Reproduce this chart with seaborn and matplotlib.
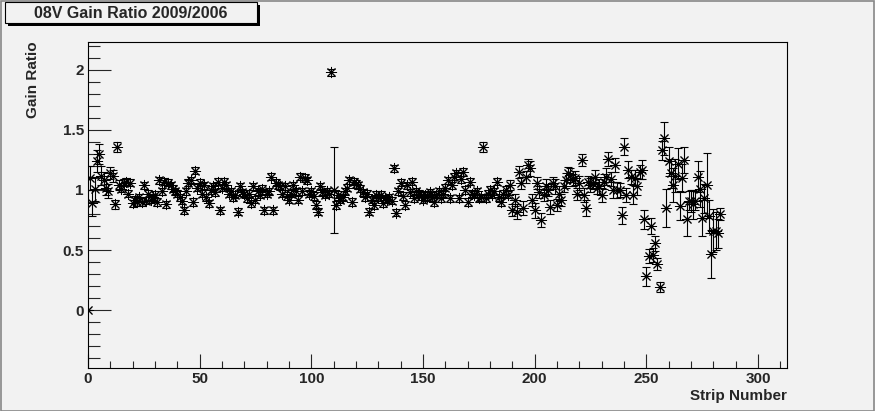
import numpy as np
import pandas as pd
import matplotlib
matplotlib.use("Agg")
import matplotlib.pyplot as plt
import seaborn as sns
from matplotlib.ticker import MultipleLocator, FormatStrFormatter
from matplotlib.patches import Rectangle

# ----------------------------------
# Data
# ----------------------------------

title = "08V Gain Ratio 2009/2006"

gain_ratio = [
    0.00, 1.10, 0.89, 1.01, 1.24, 1.30, 1.12, 1.08, 1.02, 0.99,
    1.14, 1.12, 0.88, 1.36, 1.04, 1.01, 1.06, 1.07, 0.97, 1.06,
    0.89, 0.92, 0.90, 0.94, 0.90, 1.04, 0.91, 0.97, 0.92, 0.94,
    0.96, 0.90, 1.08, 0.99, 1.07, 0.88, 1.06, 1.04, 1.01, 0.99,
    0.97, 0.94, 0.91, 0.83, 0.99, 1.06, 1.08, 0.90, 1.16, 1.02,
    1.06, 0.97, 1.04, 0.94, 0.89, 1.00, 1.03, 0.98, 1.07, 0.83,
    1.02, 1.07, 1.04, 0.97, 0.99, 0.94, 0.96, 0.82, 1.03, 0.98,
    0.97, 0.93, 0.97, 0.89, 1.03, 0.92, 0.99, 0.96, 1.01, 0.83,
    0.97, 0.99, 1.11, 0.83, 1.06, 1.04, 1.03, 0.97, 1.03, 0.95,
    0.92, 0.97, 1.04, 0.99, 0.92, 1.11, 0.99, 1.10, 1.08, 0.97,
    0.99, 0.95, 0.875, 0.82, 1.03, 0.98, 0.96, 0.99, 0.97, 1.98,
    1.00, 0.875, 0.96, 0.92, 0.94, 0.99, 1.02, 1.08, 0.90, 1.07,
    1.05, 1.04, 1.01, 0.98, 0.94, 0.97, 0.82, 0.92, 0.875, 0.96,
    0.94, 0.96, 0.89, 0.93, 0.92, 0.94, 0.91, 1.18, 0.81, 0.99,
    1.06, 0.95, 0.875, 1.04, 0.98, 1.07, 0.93, 0.99, 0.97, 0.95,
    0.92, 0.96, 0.94, 0.98, 0.94, 0.90, 0.96, 0.99, 0.93, 0.97,
    1.02, 1.08, 0.93, 1.04, 1.11, 1.14, 0.93, 1.09, 1.15, 1.00,
    0.90, 1.07, 0.97, 0.96, 0.99, 0.93, 0.94, 1.36, 0.93, 0.97,
    1.00, 0.96, 0.99, 1.07, 0.94, 0.90, 0.97, 1.00, 0.96, 1.04,
    0.83, 0.92, 0.82, 1.15, 1.06, 0.85, 1.11, 1.21, 1.18, 0.92,
    0.83, 1.06, 0.98, 0.75, 0.96, 1.03, 1.00, 0.86, 1.06, 1.03,
    0.875, 0.97, 0.92, 1.03, 1.08, 1.14, 1.125, 1.08, 1.10, 0.97,
    1.06, 1.25, 0.96, 0.85, 1.07, 1.04, 1.06, 1.11, 1.02, 1.03,
    0.96, 1.07, 1.11, 1.26, 1.09, 1.00, 1.21, 1.00, 1.00, 0.79,
    1.36, 0.96, 1.17, 1.11, 0.96, 1.10, 1.03, 1.15, 1.17, 0.755,
    0.28, 0.45, 0.70, 0.46, 0.555, 0.38, 0.19, 1.33, 1.43, 0.85,
    1.24, 1.14, 1.04, 1.12, 1.22, 0.87, 1.10, 1.25, 0.76, 0.91,
    0.91, 0.88, 0.91, 1.11, 1.01, 0.77, 0.93, 1.04, 0.78, 0.47,
    0.66, 0.66, 0.64, 0.80,
]

gain_error = [
    0.00, 0.10, 0.11, 0.10, 0.09, 0.08, 0.08, 0.07, 0.06, 0.06,
    0.05, 0.05, 0.04, 0.04, 0.04, 0.03, 0.03, 0.03, 0.03, 0.03,
    0.03, 0.03, 0.03, 0.03, 0.03, 0.03, 0.03, 0.03, 0.03, 0.03,
    0.03, 0.03, 0.03, 0.03, 0.03, 0.03, 0.03, 0.03, 0.03, 0.03,
    0.03, 0.03, 0.03, 0.03, 0.03, 0.03, 0.03, 0.03, 0.03, 0.03,
    0.03, 0.03, 0.03, 0.03, 0.03, 0.03, 0.03, 0.03, 0.03, 0.03,
    0.03, 0.03, 0.03, 0.03, 0.03, 0.03, 0.03, 0.03, 0.03, 0.03,
    0.03, 0.03, 0.03, 0.03, 0.03, 0.03, 0.03, 0.03, 0.03, 0.03,
    0.03, 0.03, 0.03, 0.03, 0.03, 0.03, 0.03, 0.03, 0.03, 0.03,
    0.03, 0.03, 0.03, 0.03, 0.03, 0.03, 0.03, 0.03, 0.03, 0.03,
    0.03, 0.03, 0.03, 0.03, 0.03, 0.03, 0.03, 0.03, 0.03, 0.03,
    0.36, 0.03, 0.03, 0.03, 0.03, 0.03, 0.03, 0.03, 0.03, 0.03,
    0.03, 0.03, 0.03, 0.03, 0.03, 0.03, 0.03, 0.03, 0.03, 0.03,
    0.03, 0.03, 0.03, 0.03, 0.03, 0.03, 0.03, 0.03, 0.03, 0.03,
    0.03, 0.03, 0.03, 0.03, 0.03, 0.03, 0.03, 0.03, 0.03, 0.03,
    0.03, 0.03, 0.03, 0.03, 0.03, 0.03, 0.03, 0.03, 0.03, 0.03,
    0.03, 0.03, 0.03, 0.03, 0.03, 0.03, 0.03, 0.03, 0.03, 0.03,
    0.03, 0.03, 0.03, 0.03, 0.03, 0.03, 0.03, 0.04, 0.03, 0.03,
    0.03, 0.03, 0.03, 0.03, 0.03, 0.03, 0.03, 0.03, 0.03, 0.04,
    0.05, 0.05, 0.06, 0.05, 0.05, 0.06, 0.05, 0.05, 0.06, 0.05,
    0.06, 0.05, 0.05, 0.06, 0.05, 0.06, 0.05, 0.06, 0.05, 0.06,
    0.05, 0.06, 0.05, 0.05, 0.06, 0.05, 0.06, 0.05, 0.06, 0.05,
    0.06, 0.05, 0.06, 0.07, 0.05, 0.06, 0.05, 0.06, 0.05, 0.06,
    0.06, 0.06, 0.07, 0.06, 0.06, 0.07, 0.06, 0.07, 0.06, 0.07,
    0.07, 0.06, 0.07, 0.06, 0.08, 0.07, 0.07, 0.06, 0.08, 0.08,
    0.08, 0.06, 0.07, 0.06, 0.06, 0.05, 0.04, 0.08, 0.14, 0.16,
    0.12, 0.12, 0.14, 0.14, 0.13, 0.12, 0.12, 0.11, 0.14, 0.08,
    0.09, 0.12, 0.08, 0.13, 0.15, 0.15, 0.12, 0.27, 0.14, 0.20,
    0.18, 0.16, 0.12, 0.05,
]

strip = list(range(len(gain_ratio)))

df = pd.DataFrame({
    "Strip": strip,
    "Ratio": gain_ratio,
    "Error": gain_error
})

# ----------------------------------
# Style
# ----------------------------------

bg = "#f2f2f2"

sns.set_style("ticks")
plt.rcParams["font.family"] = ["Liberation Sans", "DejaVu Sans"]
plt.rcParams["font.weight"] = "bold"

fig = plt.figure(figsize=(8.75, 4.11), dpi=100, facecolor=bg)
ax = fig.add_axes([88 / 875, 1 - 368 / 411, 699 / 875, 326 / 411])
ax.set_facecolor(bg)

# ----------------------------------
# Plot
# ----------------------------------

ax.errorbar(
    df["Strip"], df["Ratio"],
    yerr=df["Error"],
    fmt="none",
    ecolor="black",
    elinewidth=0.8,
    capsize=3.2,
    capthick=0.8
)

sns.scatterplot(
    data=df,
    x="Strip",
    y="Ratio",
    marker=(8, 2, 0),
    s=55,
    color="black",
    linewidth=0.7,
    ax=ax,
    zorder=3
)

ax.set_xlim(0, 313)
ax.set_ylim(-0.483, 2.233)

ax.xaxis.set_major_locator(MultipleLocator(50))
ax.xaxis.set_minor_locator(MultipleLocator(10))
ax.yaxis.set_major_locator(MultipleLocator(0.5))
ax.yaxis.set_minor_locator(MultipleLocator(0.1))
ax.yaxis.set_major_formatter(FormatStrFormatter("%g"))

ax.tick_params(axis="x", which="major", direction="in", length=10,
               width=0.8, labelsize=11, pad=3)
ax.tick_params(axis="x", which="minor", direction="in", length=5.4,
               width=0.8)
ax.tick_params(axis="y", which="major", direction="in", length=16.5,
               width=0.8, labelsize=11, pad=3)
ax.tick_params(axis="y", which="minor", direction="in", length=8.6,
               width=0.8)
ax.tick_params(top=False, right=False, which="both")

for label in ax.get_xticklabels() + ax.get_yticklabels():
    label.set_fontweight("bold")

for spine in ax.spines.values():
    spine.set_visible(True)
    spine.set_linewidth(0.8)
    spine.set_color("black")

ax.set_xlabel("")
ax.set_ylabel("")

fig.text(787 / 875, 1 - 396 / 411, "Strip Number", ha="right",
         va="center", fontsize=11, fontweight="bold")
fig.text(33 / 875, 1 - 41 / 411, "Gain Ratio", rotation=90, ha="center",
         va="top", fontsize=11, fontweight="bold")

# title box with shadow
fig.patches.append(Rectangle((8 / 875, 1 - 26 / 411), 252 / 875, 21 / 411,
                             transform=fig.transFigure, facecolor="black",
                             edgecolor="none", zorder=1))
fig.patches.append(Rectangle((5 / 875, 1 - 23 / 411), 252 / 875, 21 / 411,
                             transform=fig.transFigure, facecolor=bg,
                             edgecolor="black", linewidth=0.8, zorder=2))
fig.text(131 / 875, 1 - 13 / 411, title, ha="center", va="center",
         fontsize=11.5, fontweight="bold", zorder=3)

# canvas border
fig.patches.append(Rectangle((0.5 / 875, 0.5 / 411), 873.5 / 875,
                             409.5 / 411, transform=fig.transFigure,
                             facecolor="none", edgecolor="#888888",
                             linewidth=1.2))

fig.savefig("out.png", dpi=100, facecolor=bg)
plt.close(fig)
